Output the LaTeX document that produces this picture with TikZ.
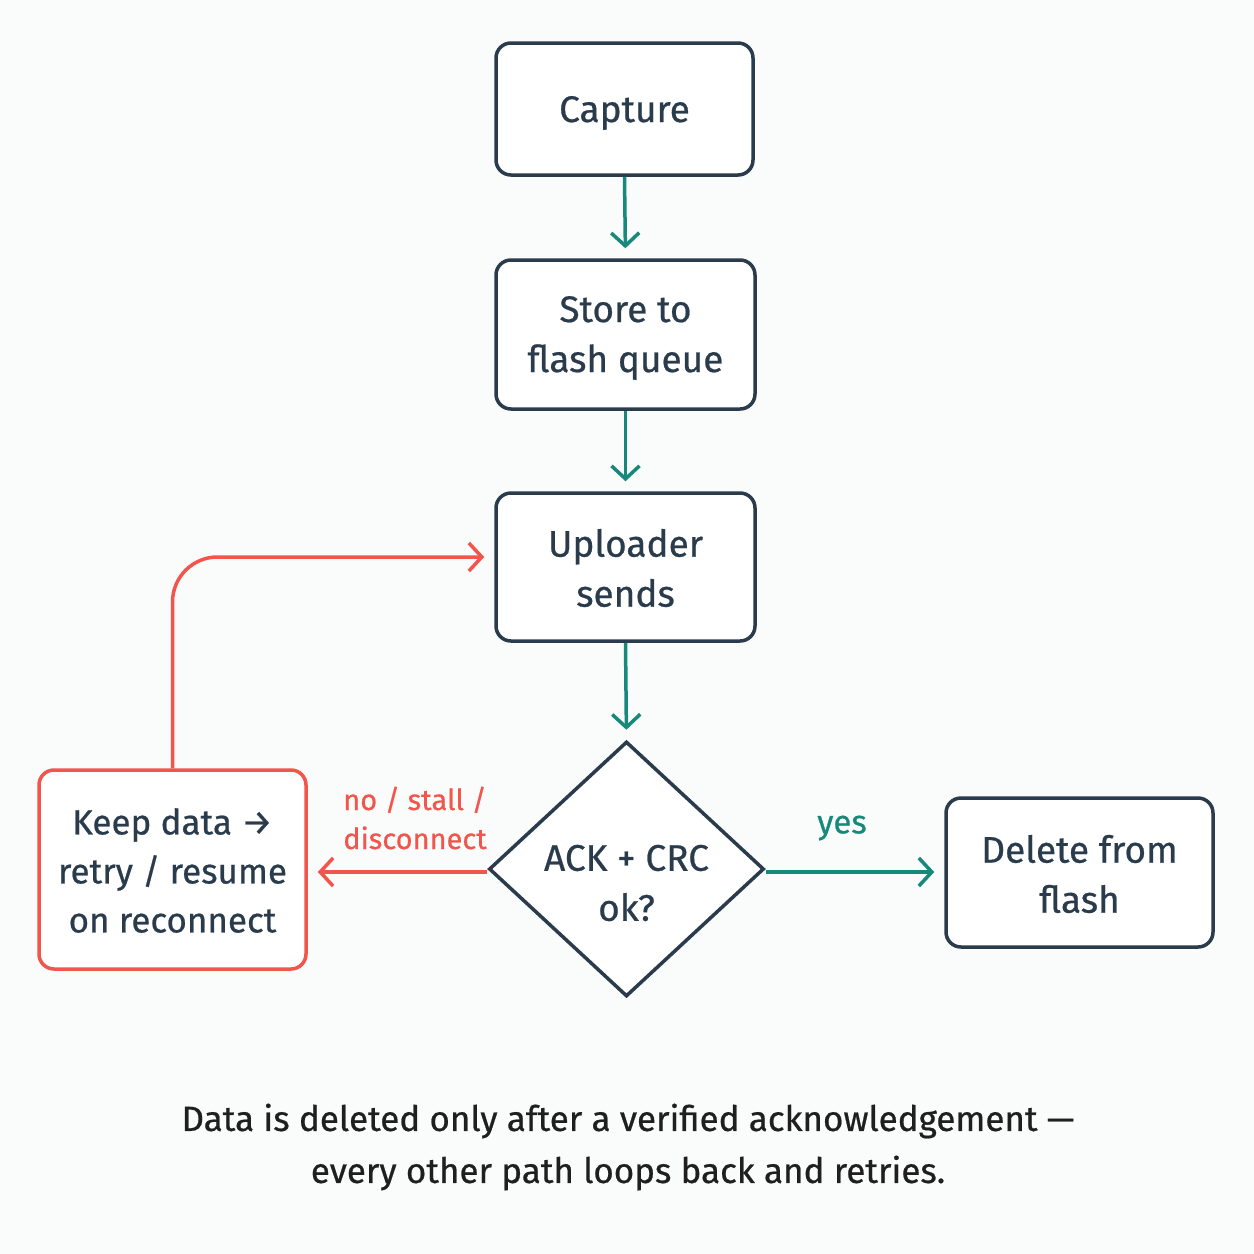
\documentclass[tikz,border=0pt]{standalone}
\usepackage{fontspec}
\setmainfont{Fira Sans}[UprightFeatures={FakeBold=0.6}]
\usetikzlibrary{shapes.geometric,arrows.meta}
\definecolor{ink}{HTML}{2A3B4C}
\definecolor{teal}{HTML}{17897A}
\definecolor{alarm}{HTML}{F2554B}
\definecolor{bg}{HTML}{FAFBFB}
\tikzset{
  shell/.style={draw=ink, line width=3.5pt, rounded corners=15pt, fill=white, inner sep=0pt},
  redshell/.style={shell, draw=alarm},
  txt/.style={text=ink, align=center, font=\fontsize{37}{50}\selectfont},
  decision/.style={draw=ink, line width=3.5pt, shape=diamond, fill=white,
    inner sep=0pt, minimum width=275pt, minimum height=255pt},
  flow/.style={draw=teal, line width=3.5pt, -{Straight Barb[length=13pt,width=28pt,line width=3.5pt]}, shorten >=10pt},
  back/.style={draw=alarm, line width=3.5pt, -{Straight Barb[length=13pt,width=28pt,line width=3.5pt]}},
  lbl/.style={font=\fontsize{29}{39}\selectfont, align=center},
}
\begin{document}
\begin{tikzpicture}[x=1pt,y=-1pt]
\fill[bg] (0,0) rectangle (1254,1254);
\useasboundingbox (0,0) rectangle (1254,1254);

\node[shell, minimum width=257pt, minimum height=132pt] (cap) at (624.5,109) {};
\node[txt] (capt) at (624.5,113) {Capture};
\node[shell, minimum width=259pt, minimum height=149pt] (store) at (625.5,334.5) {};
\node[txt] (storet) at (625.5,338) {Store to\\flash queue};
\node[shell, minimum width=259pt, minimum height=148pt] (upl) at (625.5,567) {};
\node[txt] (uplt) at (625.5,568) {Uploader\\sends};
\node[decision] (dec) at (626.5,869) {};
\node[txt] (dect) at (626.5,883) {ACK + CRC\\ok?};
\node[redshell, minimum width=267pt, minimum height=199pt] (keep) at (172.5,869.5) {};
\node[txt, font=\fontsize{35}{49}\selectfont] (keept) at (172.5,870.5) {Keep data →\\retry / resume\\on reconnect};
\node[shell, minimum width=267pt, minimum height=149pt] (del) at (1079.5,872.5) {};
\node[txt] (delt) at (1079.5,874) {Delete from\\flash};

\coordinate (decr) at (dec.east |- 0,872);
\coordinate (decl) at (dec.west |- 0,872);
\draw[flow] (cap.south) -- (store.north);
\draw[flow] (store.south) -- (upl.north);
\draw[flow] (upl.south) -- (dec.north);
\draw[flow] (decr) -- (decr -| del.west);
\node[font=\fontsize{33}{39}\selectfont, text=teal] (yes) at (842,828) {yes};
\draw[back, shorten >=10pt] (decl) -- (decl -| keep.east);
\node[lbl, text=alarm] (no) at (415,818) {no / stall /\\disconnect};
\draw[back, rounded corners=45pt] (keep.north) |- ([xshift=-10pt,yshift=10pt]upl.west);

\node[font=\fontsize{35}{52}\selectfont, text=black!88, align=center] (cap2) at (628,1147)
  {Data is deleted only after a verified acknowledgement —\\every other path loops back and retries.};
\end{tikzpicture}
\end{document}
